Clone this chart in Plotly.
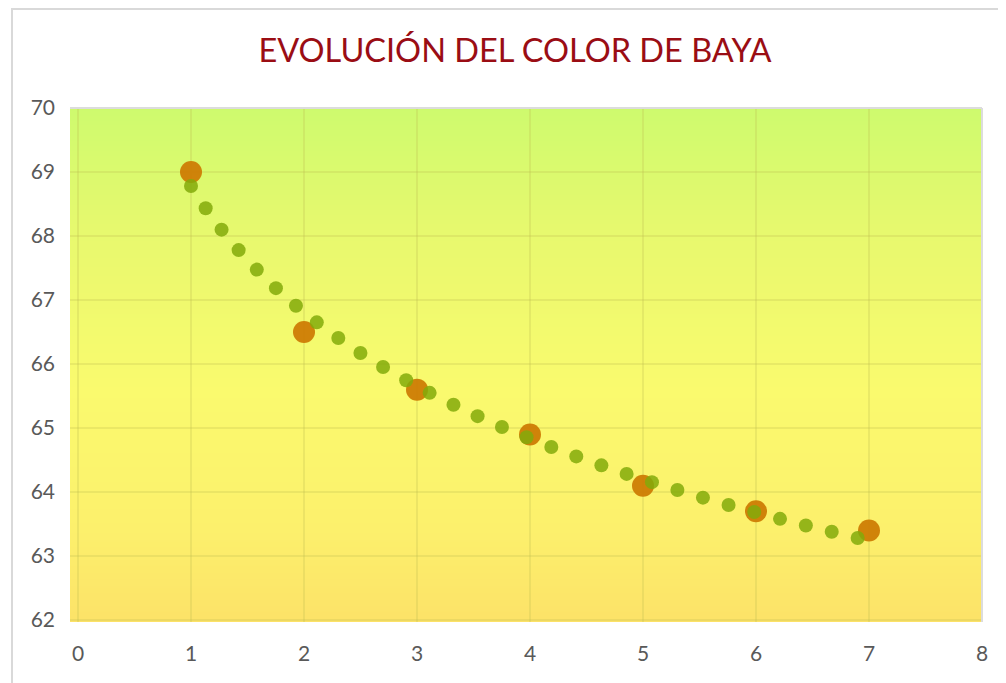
import numpy as np
import plotly.graph_objects as go

# ---- data ----
x_vals = [1, 2, 3, 4, 5, 6, 7]
y_vals = [69.0, 66.5, 65.6, 64.9, 64.1, 63.7, 63.4]
x_ticks = [0, 1, 2, 3, 4, 5, 6, 7, 8]
y_ticks = [62, 63, 64, 65, 66, 67, 68, 69, 70]
title_text = "EVOLUCIÓN DEL COLOR DE BAYA"

# ---- layout geometry (page body has an 8px margin) ----
OFF = 8
W, H = 1006 - OFF, 683 - OFF
ML, MR, MT, MB = 70 - OFF, 24, 108 - OFF, 61
x_range = [-0.0708, 8]
y_range = [61.97, 70]
pw = W - ML - MR
ph = H - MT - MB

# ---- logarithmic trendline (fit from data) ----
a, b = np.polyfit(np.log(x_vals), y_vals, 1)
xs = np.linspace(x_vals[0], x_vals[-1], 4000)
ys = a * np.log(xs) + b
px = (xs - x_range[0]) / (x_range[1] - x_range[0]) * pw
py = (ys - y_range[0]) / (y_range[1] - y_range[0]) * ph
seg = np.hypot(np.diff(px), np.diff(py))
arc = np.concatenate([[0], np.cumsum(seg)])
step = 26.65
targets = np.arange(0, arc[-1] - 6, step)
tx = np.interp(targets, arc, xs)
ty = a * np.log(tx) + b

fig = go.Figure()

# gradient background
gy = np.linspace(y_range[0], y_range[1], 60)
fig.add_trace(go.Heatmap(
    x=[x_range[0], x_range[1]], y=gy,
    z=[[v, v] for v in gy],
    colorscale=[[0, "rgb(252,226,104)"], [0.18, "rgb(252,240,108)"],
                [0.45, "rgb(250,250,110)"], [0.75, "rgb(232,249,110)"],
                [1, "rgb(206,250,110)"]],
    zmin=y_range[0], zmax=y_range[1], zsmooth="best",
    showscale=False, hoverinfo="skip"))

# gridlines drawn above the gradient, below the markers
grid_col = "rgba(190,190,80,0.26)"
gx, gyl = [], []
for t in x_ticks:
    gx += [t, t, None]
    gyl += [y_range[0], y_range[1], None]
for t in y_ticks:
    gx += [x_range[0], x_range[1], None]
    gyl += [t, t, None]
fig.add_trace(go.Scatter(x=gx, y=gyl, mode="lines",
                         line=dict(color=grid_col, width=2),
                         hoverinfo="skip", showlegend=False))

fig.add_trace(go.Scatter(
    x=x_vals, y=y_vals, mode="markers",
    marker=dict(size=22, color="rgba(206,124,4,0.95)", line=dict(width=0)),
    name="Color", showlegend=False))

fig.add_trace(go.Scatter(
    x=tx, y=ty, mode="markers",
    marker=dict(size=14, color="rgba(130,170,10,0.85)", line=dict(width=0)),
    name="Tendencia", showlegend=False, hoverinfo="skip"))

tick_font = dict(family="Lato, Open Sans, sans-serif", size=21, color="#595959")
fig.update_xaxes(range=x_range, tickvals=x_ticks, showgrid=False,
                 zeroline=False, showline=False, ticks="",
                 tickfont=tick_font, ticklabelstandoff=17)
fig.update_yaxes(range=y_range, tickvals=y_ticks, showgrid=False,
                 zeroline=False, showline=False, ticks="",
                 tickfont=tick_font, ticklabelstandoff=14)

shapes = [
    # outer chart border
    dict(type="rect", xref="paper", yref="paper",
         x0=(12 - 70) / pw, x1=(1015 - 70) / pw,
         y0=-(700 - 108 - ph) / ph, y1=1 + (MT - 1) / ph,
         line=dict(color="#d9d9d9", width=2), layer="below"),
    # plot area top & right border
    dict(type="line", xref="paper", yref="paper", x0=0, x1=1, y0=1, y1=1,
         line=dict(color="#dcdcdc", width=2)),
    dict(type="line", xref="paper", yref="paper", x0=1, x1=1, y0=0, y1=1,
         line=dict(color="#dcdcdc", width=2)),
]

fig.update_layout(
    width=W, height=H,
    margin=dict(l=ML, r=MR, t=MT, b=MB),
    paper_bgcolor="white", plot_bgcolor="white",
    title=dict(text=title_text, x=(515 - 70) / 912, xanchor="center",
               y=1 - 43 / H, yanchor="middle", xref="paper",
               font=dict(family="Lato, sans-serif", size=32.5, color="#9a0d14")),
    shapes=shapes,
    showlegend=False,
)

fig.write_html("out.html")
